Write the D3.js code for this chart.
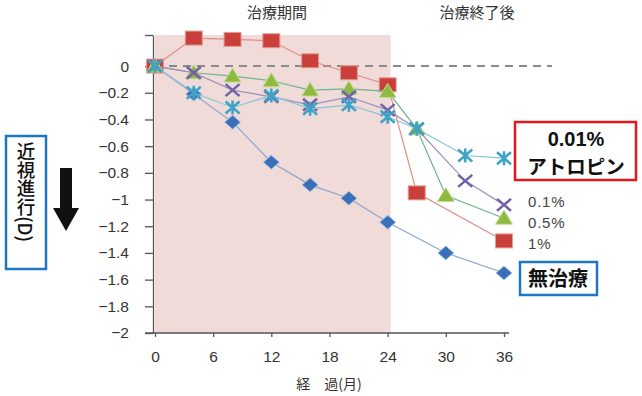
<!DOCTYPE html>
<html>
<head>
<meta charset="utf-8">
<script src="https://cdn.jsdelivr.net/npm/d3@7"></script>
<style>
  body { margin: 0; background: #fff; }
  svg { display: block; }
  .axis text { font-family: "Liberation Sans", Arial, sans-serif; font-size: 15.5px; fill: #333; }
  .axis path, .axis line { stroke: #555; stroke-width: 1.3; }
  .jp { font-family: "Noto Sans CJK JP", sans-serif; }
</style>
</head>
<body>
<svg id="chart" width="642" height="396"></svg>
<script>
"use strict";

// Months after start and refraction change (D) for each group
const placeboMonths = [0, 4, 8, 12, 16, 20, 24, 30, 36];
const placeboValues = [0, -0.21, -0.42, -0.72, -0.89, -0.99, -1.17, -1.40, -1.55];

const atr1Months = [0, 4, 8, 12, 16, 20, 24, 27, 36];
const atr1Values = [0, 0.21, 0.20, 0.19, 0.04, -0.05, -0.14, -0.95, -1.31];

const atr05Months = [0, 4, 8, 12, 16, 20, 24, 27, 30, 36];
const atr05Values = [0, -0.05, -0.075, -0.11, -0.18, -0.17, -0.19, -0.47, -0.97, -1.14];

const atr01Months = [0, 4, 8, 12, 16, 20, 24, 27, 32, 36];
const atr01Values = [0, -0.05, -0.18, -0.23, -0.29, -0.23, -0.33, -0.47, -0.86, -1.04];

const atr001Months = [0, 4, 8, 12, 16, 20, 24, 27, 32, 36];
const atr001Values = [0, -0.20, -0.31, -0.22, -0.32, -0.29, -0.38, -0.47, -0.67, -0.69];

const xTicks = [0, 6, 12, 18, 24, 30, 36];
const yTicks = [0, -0.2, -0.4, -0.6, -0.8, -1, -1.2, -1.4, -1.6, -1.8, -2];
const treatmentEnd = 24;

const svg = d3.select("#chart");

const x = d3.scaleLinear().domain([0, 36]).range([155, 504]);
const y = d3.scaleLinear().domain([-2, 0.233]).range([333, 35]);

// treatment period shading
svg.append("rect")
  .attr("x", x(0))
  .attr("y", y(0.233))
  .attr("width", x(treatmentEnd) - x(0) + 3)
  .attr("height", y(-2) - y(0.233))
  .attr("fill", "#f0dbd8");

// zero reference line
svg.append("line")
  .attr("x1", x(0)).attr("x2", 552)
  .attr("y1", y(0)).attr("y2", y(0))
  .attr("stroke", "#8a8a8a")
  .attr("stroke-width", 2)
  .attr("stroke-dasharray", "8,6");

// axes
const fmt = (d) => (Number.isInteger(d) ? (d < 0 ? "\u2212" + Math.abs(d) : "" + d) : d3.format(".1f")(d));

const yAxis = d3.axisLeft(y)
  .tickValues(yTicks.concat([0.233]))
  .tickSize(8)
  .tickSizeOuter(0)
  .tickPadding(16)
  .tickFormat((d) => (d > 0.1 ? "" : fmt(d)));
svg.append("g").attr("class", "axis").attr("transform", "translate(153,0)").call(yAxis);

const xAxis = d3.axisBottom(x)
  .tickValues(xTicks)
  .tickSize(4)
  .tickSizeOuter(0)
  .tickPadding(14);
const xg = svg.append("g").attr("class", "axis").attr("transform", "translate(0,333)").call(xAxis);
xg.select(".domain").remove();
xg.append("line").attr("x1", 145).attr("x2", 509).attr("y1", 0).attr("y2", 0);

// series
const series = [
  { name: "無治療", months: placeboMonths, values: placeboValues, color: "#3b70b8", line: "#8aa6cf", shape: "diamond" },
  { name: "1%", months: atr1Months, values: atr1Values, color: "#c9403b", line: "#dc8e89", shape: "square" },
  { name: "0.5%", months: atr05Months, values: atr05Values, color: "#8dba3f", line: "#6db48a", shape: "triangle" },
  { name: "0.1%", months: atr01Months, values: atr01Values, color: "#7462a8", line: "#9a90bf", shape: "times" },
  { name: "0.01%", months: atr001Months, values: atr001Values, color: "#3fa3c6", line: "#86c3d8", shape: "asterisk" },
];

const line = d3.line().x((d) => x(d.m)).y((d) => y(d.v));

function drawMarker(g, s) {
  if (s.shape === "square") {
    g.append("rect").attr("x", -8.5).attr("y", -7).attr("width", 17).attr("height", 14)
      .attr("fill", s.color).attr("stroke", "#e59a95").attr("stroke-width", 1);
  } else if (s.shape === "diamond") {
    g.append("path").attr("d", "M0,-7L8,0L0,7L-8,0Z")
      .attr("fill", s.color).attr("stroke", "#a9c2e3").attr("stroke-width", 1);
  } else if (s.shape === "triangle") {
    g.append("path").attr("d", "M0,-8L8.5,6L-8.5,6Z")
      .attr("fill", s.color).attr("stroke", "#c3dd9a").attr("stroke-width", 1);
  } else if (s.shape === "times") {
    g.append("path").attr("d", "M-7,-6L7,6M-7,6L7,-6")
      .attr("stroke", s.color).attr("stroke-width", 2.6).attr("fill", "none");
  } else {
    g.append("path").attr("d", "M-7,-6L7,6M-7,6L7,-6M0,-7L0,7")
      .attr("stroke", s.color).attr("stroke-width", 2.6).attr("fill", "none");
  }
}

series.forEach((s) => {
  const pts = s.months.map((m, i) => ({ m, v: s.values[i] }));
  svg.append("path").datum(pts)
    .attr("d", line)
    .attr("fill", "none")
    .attr("stroke", s.line)
    .attr("stroke-width", 1.2);
  svg.append("g").selectAll("g").data(pts).join("g")
    .attr("transform", (d) => `translate(${x(d.m)},${y(d.v)})`)
    .each(function () { drawMarker(d3.select(this), s); });
});

// titles over the periods
svg.append("text").attr("class", "jp").attr("x", 277).attr("y", 18)
  .attr("text-anchor", "middle").attr("font-size", 15).attr("fill", "#333").text("治療期間");
svg.append("text").attr("class", "jp").attr("x", 477).attr("y", 18)
  .attr("text-anchor", "middle").attr("font-size", 15).attr("fill", "#333").text("治療終了後");

// x axis title
svg.append("text").attr("class", "jp").attr("x", 329).attr("y", 389)
  .attr("text-anchor", "middle").attr("font-size", 14).attr("fill", "#333").text("経\u3000過(月)");

// y axis label box with arrow
svg.append("rect").attr("x", 6).attr("y", 136).attr("width", 40).attr("height", 133)
  .attr("fill", "#fff").attr("stroke", "#1f77c4").attr("stroke-width", 2.5);
svg.append("text").attr("class", "jp").attr("x", 26).attr("y", 142)
  .attr("font-size", 18.5).attr("font-weight", 500).attr("fill", "#111")
  .style("writing-mode", "vertical-rl")
  .text("近視進行(D)");
svg.append("path")
  .attr("d", "M60,168L72,168L72,208L79,208L66,231L53,208L60,208Z")
  .attr("fill", "#111");

// series labels
svg.append("rect").attr("x", 515).attr("y", 122).attr("width", 121).attr("height", 58)
  .attr("fill", "#fff").attr("stroke", "#e8151b").attr("stroke-width", 2.5);
svg.append("text").attr("x", 576).attr("y", 146)
  .attr("font-family", "Liberation Sans, Arial, sans-serif")
  .attr("text-anchor", "middle").attr("font-size", 20).attr("font-weight", "bold").attr("fill", "#111").text("0.01%");
svg.append("text").attr("class", "jp").attr("x", 576).attr("y", 173.5)
  .attr("text-anchor", "middle").attr("font-size", 19.5).attr("font-weight", "bold").attr("fill", "#111").text("アトロピン");

const plainLabels = [["0.1%", 201], ["0.5%", 222], ["1%", 243]];
plainLabels.forEach(([t, yy]) => {
  svg.append("text").attr("x", 528).attr("y", yy + 5.5)
    .attr("font-family", "Liberation Sans, Arial, sans-serif")
    .attr("font-size", 15).attr("letter-spacing", 0.8).attr("fill", "#444").text(t);
});

svg.append("rect").attr("x", 520).attr("y", 262).attr("width", 77).attr("height", 33)
  .attr("fill", "#fff").attr("stroke", "#1f77c4").attr("stroke-width", 2.5);
svg.append("text").attr("class", "jp").attr("x", 558).attr("y", 286)
  .attr("text-anchor", "middle").attr("font-size", 20).attr("font-weight", "bold").attr("fill", "#111").text("無治療");
</script>
</body>
</html>
